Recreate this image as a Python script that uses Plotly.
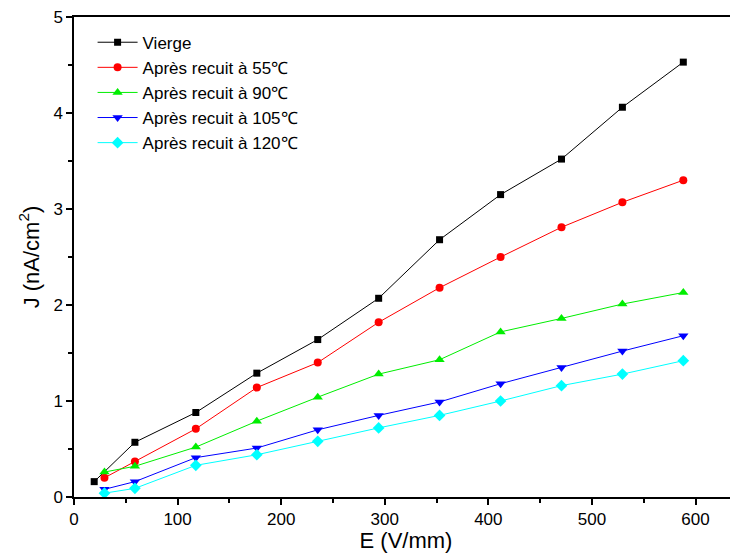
import plotly.graph_objects as go

E_vierge = [19.5, 58.8, 117.6, 176.5, 235.3, 294.1, 352.9, 411.8, 470.6, 529.4, 588.2]
J_vierge = [0.16, 0.57, 0.88, 1.29, 1.64, 2.07, 2.68, 3.15, 3.52, 4.06, 4.53]

E_recuit = [29.4, 58.8, 117.6, 176.5, 235.3, 294.1, 352.9, 411.8, 470.6, 529.4, 588.2]
J_55 = [0.20, 0.37, 0.71, 1.14, 1.40, 1.82, 2.18, 2.50, 2.81, 3.07, 3.30]
J_90 = [0.26, 0.32, 0.52, 0.79, 1.04, 1.28, 1.43, 1.72, 1.86, 2.01, 2.13]
J_105 = [0.08, 0.16, 0.41, 0.51, 0.70, 0.85, 0.99, 1.18, 1.35, 1.52, 1.68]
J_120 = [0.04, 0.09, 0.33, 0.44, 0.58, 0.72, 0.85, 1.00, 1.16, 1.28, 1.42]

names = ["Vierge", "Après recuit à 55℃", "Après recuit à 90℃",
         "Après recuit à 105℃", "Après recuit à 120℃"]
colors = ["#000000", "#FF0000", "#00EE00", "#0000FF", "#00FFFF"]
symbols = ["square", "circle", "triangle-up", "triangle-down", "diamond"]
msizes = [7, 8, 9, 9, 9]
xs = [E_vierge, E_recuit, E_recuit, E_recuit, E_recuit]
ys = [J_vierge, J_55, J_90, J_105, J_120]

fig = go.Figure()
for x, y, n, c, s, ms in zip(xs, ys, names, colors, symbols, msizes):
    fig.add_trace(go.Scatter(
        x=x, y=y, name=n, mode="lines+markers",
        line=dict(color=c, width=1),
        marker=dict(symbol=s, color=c, size=ms, line=dict(width=0)),
    ))

font = "Liberation Sans, Arial, sans-serif"
fig.update_layout(
    width=730, height=545,
    margin=dict(l=66, r=0, t=9, b=56),
    plot_bgcolor="white", paper_bgcolor="white",
    font=dict(family=font, color="black", size=17),
    showlegend=True,
    legend=dict(x=0.028, y=0.984, xanchor="left", yanchor="top",
                bgcolor="rgba(0,0,0,0)", font=dict(size=17),
                tracegroupgap=0, itemwidth=40),
    xaxis=dict(
        range=[0, 641], tickvals=[0, 100, 200, 300, 400, 500, 600],
        showgrid=False, zeroline=False, automargin=False,
        showline=True, linecolor="black", linewidth=1.5, mirror=True,
        ticks="outside", ticklen=6, tickwidth=1.5, tickcolor="black",
        minor=dict(tickvals=[50, 150, 250, 350, 450, 550, 650], ticks="outside",
                   ticklen=4, tickwidth=1.5, tickcolor="black"),
        tickfont=dict(size=17), ticklabeloverflow="allow",
        title=dict(text="E (V/mm)", font=dict(size=22), standoff=0),
    ),
    yaxis=dict(
        range=[0, 5], tickvals=[0, 1, 2, 3, 4, 5],
        showgrid=False, zeroline=False, automargin=False,
        showline=True, linecolor="black", linewidth=1.5,
        ticks="outside", ticklen=6, tickwidth=1.5, tickcolor="black",
        minor=dict(tickvals=[0.5, 1.5, 2.5, 3.5, 4.5], ticks="outside",
                   ticklen=4, tickwidth=1.5, tickcolor="black"),
        tickfont=dict(size=17), ticklabeloverflow="allow",
        title=dict(text="J (nA/cm<sup>2</sup>)", font=dict(size=22), standoff=8),
    ),
)

fig.write_html("out.html")
